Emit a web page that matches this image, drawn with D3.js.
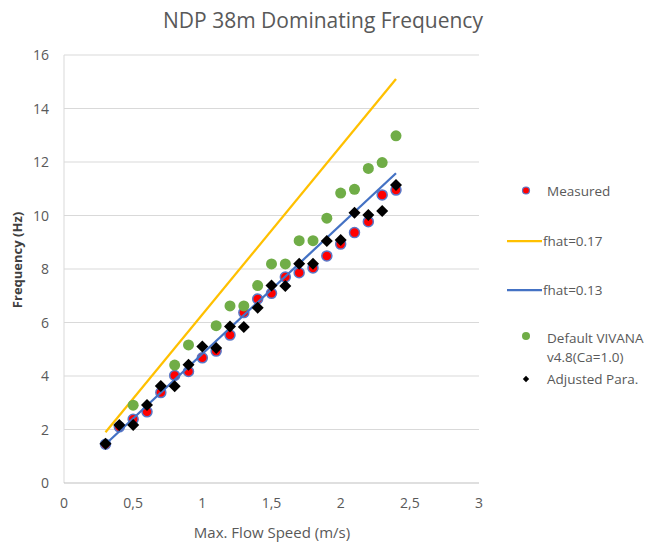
<!DOCTYPE html>
<html>
<head>
<meta charset="utf-8">
<script src="https://cdn.jsdelivr.net/npm/d3@7"></script>
<style>
  body { margin: 0; background: #fff; }
  text { font-family: "Open Sans", "Noto Sans", sans-serif; }
</style>
</head>
<body>
<div id="chart"></div>
<script>
// flow speeds (m/s)
const speeds = [0.3, 0.4, 0.5, 0.6, 0.7, 0.8, 0.9, 1.0, 1.1, 1.2, 1.3,
                1.4, 1.5, 1.6, 1.7, 1.8, 1.9, 2.0, 2.1, 2.2, 2.3, 2.4];

const measured = [1.45, 2.1, 2.38, 2.66, 3.38, 4.02, 4.17, 4.68, 4.93, 5.53, 6.37,
                  6.88, 7.09, 7.7, 7.86, 8.04, 8.49, 8.93, 9.36, 9.77, 10.77, 10.95];

const adjusted = [1.47, 2.17, 2.17, 2.92, 3.63, 3.62, 4.42, 5.1, 5.05, 5.85, 5.83,
                  6.55, 7.38, 7.36, 8.2, 8.2, 9.05, 9.08, 10.1, 10.02, 10.17, 11.14];

// default VIVANA, null where hidden under other markers
const vivana = [null, null, 2.91, null, null, 4.41, 5.16, null, 5.88, 6.62, 6.62,
                7.38, 8.19, 8.19, 9.06, 9.06, 9.9, 10.84, 10.98, 11.76, 11.98, 12.98];

// reduced-velocity lines, end points
const lineSpeeds = [0.3, 2.4];
const fhat017 = [1.9, 15.1];
const fhat013 = [1.45, 11.58];

const xTicks = [0, 0.5, 1, 1.5, 2, 2.5, 3];
const yTicks = [0, 2, 4, 6, 8, 10, 12, 14, 16];

const width = 649, height = 542;
const svg = d3.select("#chart").append("svg")
    .attr("width", width)
    .attr("height", height);

const x = d3.scaleLinear().domain([0, 3]).range([64, 479]);
const y = d3.scaleLinear().domain([0, 16]).range([483, 55]);

// grid
svg.append("g").selectAll("line")
    .data(yTicks.slice(1))
    .join("line")
    .attr("x1", x(0)).attr("x2", x(3))
    .attr("y1", d => y(d)).attr("y2", d => y(d))
    .attr("stroke", "#d9d9d9").attr("stroke-width", 1);

// axis lines
svg.append("line")
    .attr("x1", x(0)).attr("x2", x(0))
    .attr("y1", y(0)).attr("y2", y(16))
    .attr("stroke", "#d9d9d9");
svg.append("line")
    .attr("x1", x(0)).attr("x2", x(3))
    .attr("y1", y(0)).attr("y2", y(0))
    .attr("stroke", "#bfbfbf");

// tick labels
svg.append("g").selectAll("text")
    .data(yTicks)
    .join("text")
    .attr("x", 49)
    .attr("y", d => y(d) + 5)
    .attr("text-anchor", "end")
    .attr("font-size", 14)
    .attr("fill", "#595959")
    .text(d => d);

svg.append("g").selectAll("text")
    .data(xTicks)
    .join("text")
    .attr("x", d => x(d))
    .attr("y", 508)
    .attr("text-anchor", "middle")
    .attr("font-size", 14)
    .attr("fill", "#595959")
    .text(d => String(d).replace(".", ","));

// titles
svg.append("text")
    .attr("x", 323).attr("y", 28)
    .attr("text-anchor", "middle")
    .attr("font-size", 21)
    .attr("fill", "#595959")
    .text("NDP 38m Dominating Frequency");

svg.append("text")
    .attr("x", 272).attr("y", 538)
    .attr("text-anchor", "middle")
    .attr("font-size", 15)
    .attr("fill", "#595959")
    .text("Max. Flow Speed (m/s)");

svg.append("text")
    .attr("transform", "translate(22,260) rotate(-90)")
    .attr("text-anchor", "middle")
    .attr("font-size", 13)
    .attr("font-weight", "bold")
    .attr("fill", "#404040")
    .text("Frequency (Hz)");

const line = d3.line()
    .x((d, i) => x(lineSpeeds[i]))
    .y(d => y(d));

// measured
svg.append("g").selectAll("circle")
    .data(measured)
    .join("circle")
    .attr("cx", (d, i) => x(speeds[i]))
    .attr("cy", d => y(d))
    .attr("r", 5)
    .attr("fill", "#ff0000")
    .attr("stroke", "#5a78c8")
    .attr("stroke-width", 1.5);

svg.append("path")
    .attr("d", line(fhat017))
    .attr("fill", "none")
    .attr("stroke", "#ffc000")
    .attr("stroke-width", 2.25);

svg.append("path")
    .attr("d", line(fhat013))
    .attr("fill", "none")
    .attr("stroke", "#4472c4")
    .attr("stroke-width", 2.25);

svg.append("g").selectAll("circle")
    .data(vivana.map((v, i) => [speeds[i], v]).filter(d => d[1] !== null))
    .join("circle")
    .attr("cx", d => x(d[0]))
    .attr("cy", d => y(d[1]))
    .attr("r", 5.5)
    .attr("fill", "#70ad47");

const diamond = d3.symbol(d3.symbolSquare, 72);
svg.append("g").selectAll("path")
    .data(adjusted)
    .join("path")
    .attr("d", diamond)
    .attr("transform", (d, i) => `translate(${x(speeds[i])},${y(d)}) rotate(45)`)
    .attr("fill", "#000");

// legend
const lg = svg.append("g").attr("font-size", 13.5).attr("fill", "#595959");
lg.append("circle").attr("cx", 526).attr("cy", 190.5).attr("r", 3.5)
    .attr("fill", "#ff0000").attr("stroke", "#5a78c8").attr("stroke-width", 1.2);
lg.append("text").attr("x", 547).attr("y", 195.5).text("Measured");

lg.append("line").attr("x1", 507).attr("x2", 542).attr("y1", 241).attr("y2", 241)
    .attr("stroke", "#ffc000").attr("stroke-width", 2.25);
lg.append("text").attr("x", 543).attr("y", 246).text("fhat=0.17");

lg.append("line").attr("x1", 507).attr("x2", 542).attr("y1", 290).attr("y2", 290)
    .attr("stroke", "#4472c4").attr("stroke-width", 2.25);
lg.append("text").attr("x", 543).attr("y", 295).text("fhat=0.13");

lg.append("circle").attr("cx", 526).attr("cy", 336).attr("r", 4).attr("fill", "#70ad47");
lg.append("text").attr("x", 547).attr("y", 343).text("Default VIVANA");
lg.append("text").attr("x", 547).attr("y", 362).text("v4.8(Ca=1.0)");

lg.append("path").attr("d", d3.symbol(d3.symbolSquare, 20))
    .attr("transform", "translate(526,379) rotate(45)").attr("fill", "#000");
lg.append("text").attr("x", 547).attr("y", 384).text("Adjusted Para.");
</script>
</body>
</html>
